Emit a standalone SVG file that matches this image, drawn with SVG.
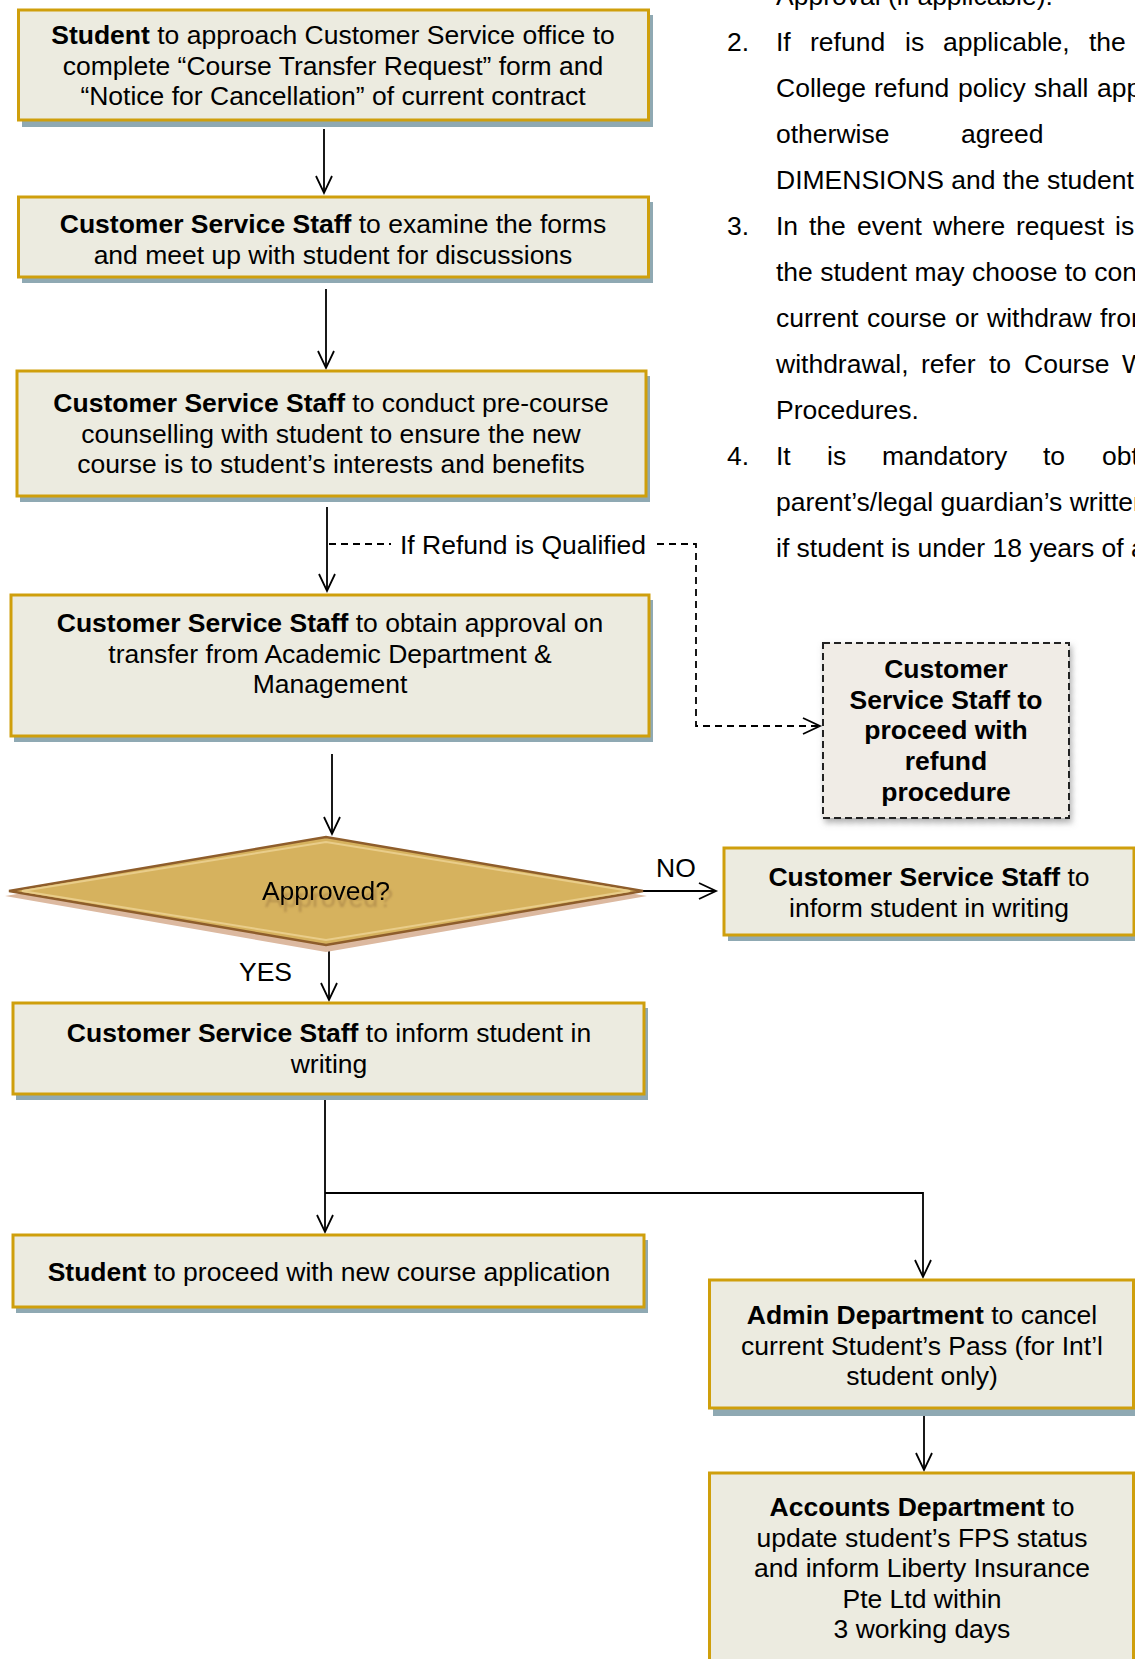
<svg xmlns="http://www.w3.org/2000/svg" width="1135" height="1659" viewBox="0 0 1135 1659">
<style>
.sh{fill:#8fa9b3}
.box{fill:#ecebe0;stroke:#cf9f0c;stroke-width:3}
.t{font-family:"Liberation Sans",Arial,sans-serif;font-size:26.5px;fill:#000;text-anchor:middle}
.l{font-family:"Liberation Sans",Arial,sans-serif;font-size:26.5px;fill:#000}
.b{font-weight:bold}
.c{fill:none;stroke:#000;stroke-width:1.8}
.d{fill:none;stroke:#000;stroke-width:1.8;stroke-dasharray:7 5}
</style>
<defs>
<marker id="ah" markerUnits="userSpaceOnUse" markerWidth="24" markerHeight="24" viewBox="-20 -12 24 24" refX="0" refY="0" orient="auto">
<path d="M-17,-8 L0,0 L-17,8" fill="none" stroke="#000" stroke-width="1.8"/>
</marker>
<filter id="ds" x="-10%" y="-10%" width="130%" height="130%">
<feDropShadow dx="2" dy="4" stdDeviation="3" flood-color="#777" flood-opacity="0.6"/>
</filter>
<filter id="ts" x="-10%" y="-30%" width="130%" height="180%">
<feDropShadow dx="3" dy="7" stdDeviation="1.2" flood-color="#9a7440" flood-opacity="0.55"/>
</filter>
</defs>

<g id="notes">
<text class="l" x="776" y="5">Approval (if applicable).</text>
<text class="l" x="727" y="51">2.</text>
<text class="l" y="51"><tspan x="776">If</tspan><tspan x="810">refund</tspan><tspan x="905">is</tspan><tspan x="943">applicable,</tspan><tspan x="1089">the</tspan></text>
<text class="l" y="97"><tspan x="776">College</tspan><tspan x="874">refund</tspan><tspan x="958">policy</tspan><tspan x="1034">shall</tspan><tspan x="1097">apply</tspan></text>
<text class="l" y="143"><tspan x="776">otherwise</tspan><tspan x="961">agreed</tspan></text>
<text class="l" x="776" y="189">DIMENSIONS and the student</text>
<text class="l" x="727" y="235">3.</text>
<text class="l" y="235"><tspan x="776">In</tspan><tspan x="809">the</tspan><tspan x="857">event</tspan><tspan x="933">where</tspan><tspan x="1016">request</tspan><tspan x="1115">is</tspan></text>
<text class="l" x="776" y="281">the student may choose to cont</text>
<text class="l" y="327"><tspan x="776">current</tspan><tspan x="867">course</tspan><tspan x="955">or</tspan><tspan x="987">withdraw</tspan><tspan x="1100">from</tspan></text>
<text class="l" y="373"><tspan x="776">withdrawal,</tspan><tspan x="921">refer</tspan><tspan x="989">to</tspan><tspan x="1024">Course</tspan><tspan x="1122">W</tspan></text>
<text class="l" x="776" y="419">Procedures.</text>
<text class="l" x="727" y="465">4.</text>
<text class="l" y="465"><tspan x="776">It</tspan><tspan x="827">is</tspan><tspan x="882">mandatory</tspan><tspan x="1043">to</tspan><tspan x="1102">obtain</tspan></text>
<text class="l" x="776" y="511">parent’s/legal guardian’s written</text>
<text class="l" x="776" y="557">if student is under 18 years of age</text>
</g>

<g id="connectors">
<line class="c" x1="324" y1="129" x2="324" y2="193" marker-end="url(#ah)"/>
<line class="c" x1="326" y1="289" x2="326" y2="368" marker-end="url(#ah)"/>
<line class="c" x1="327" y1="507" x2="327" y2="591" marker-end="url(#ah)"/>
<line class="d" x1="329" y1="544" x2="391" y2="544"/>
<polyline class="d" points="657,544 696,544 696,726 820,726" marker-end="url(#ah)"/>
<line class="c" x1="332" y1="754" x2="332" y2="834" marker-end="url(#ah)"/>
<line class="c" x1="643" y1="891" x2="716" y2="891" marker-end="url(#ah)"/>
<line class="c" x1="329" y1="947" x2="329" y2="1000" marker-end="url(#ah)"/>
<line class="c" x1="325" y1="1095" x2="325" y2="1232" marker-end="url(#ah)"/>
<polyline class="c" points="325,1193 923,1193 923,1277" marker-end="url(#ah)"/>
<line class="c" x1="924" y1="1416" x2="924" y2="1470" marker-end="url(#ah)"/>
<text class="l" x="400" y="554">If Refund is Qualified</text>
<text class="l" x="656" y="877">NO</text>
<text class="l" x="239" y="981">YES</text>
</g>

<g id="n1">
<rect class="sh" x="22" y="15" width="631" height="112"/>
<rect class="box" x="18.5" y="10" width="630" height="110"/>
<text class="t" y="44"><tspan x="333"><tspan class="b">Student</tspan> to approach Customer Service office to</tspan><tspan x="333" dy="30.5">complete “Course Transfer Request” form and</tspan><tspan x="333" dy="30.5">“Notice for Cancellation” of current contract</tspan></text>
</g>

<g id="n2">
<rect class="sh" x="22" y="202" width="631" height="81"/>
<rect class="box" x="18.5" y="197" width="630" height="80"/>
<text class="t" y="233"><tspan x="333"><tspan class="b">Customer Service Staff</tspan> to examine the forms</tspan><tspan x="333" dy="30.5">and meet up with student for discussions</tspan></text>
</g>

<g id="n3">
<rect class="sh" x="20" y="376" width="630" height="126"/>
<rect class="box" x="17" y="371" width="629" height="125"/>
<text class="t" y="412"><tspan x="331"><tspan class="b">Customer Service Staff</tspan> to conduct pre-course</tspan><tspan x="331" dy="30.5">counselling with student to ensure the new</tspan><tspan x="331" dy="30.5">course is to student’s interests and benefits</tspan></text>
</g>

<g id="n4">
<rect class="sh" x="14" y="600" width="639" height="142"/>
<rect class="box" x="11" y="595" width="638" height="141"/>
<text class="t" y="632"><tspan x="330"><tspan class="b">Customer Service Staff</tspan> to obtain approval on</tspan><tspan x="330" dy="30.5">transfer from Academic Department &amp;</tspan><tspan x="330" dy="30.5">Management</tspan></text>
</g>

<g id="n5">
<polygon points="5,896 326,843 647,896 326,952" fill="#dcb9a0"/>
<polygon points="9,891 326,837 643,891 326,945" fill="#d6b25e" stroke="#8e5d2b" stroke-width="2.5"/>
<polygon points="22,891 326,842 630,891 326,940" fill="none" stroke="#e9cd8a" stroke-width="2"/>
<text class="t" x="326" y="900" filter="url(#ts)">Approved?</text>
</g>

<g id="n6">
<g filter="url(#ds)"><rect x="823" y="643" width="246" height="175" fill="#f0ece6" stroke="#222" stroke-width="2" stroke-dasharray="7 4"/></g>
<text class="t b" y="678"><tspan x="946">Customer</tspan><tspan x="946" dy="30.7">Service Staff to</tspan><tspan x="946" dy="30.7">proceed with</tspan><tspan x="946" dy="30.7">refund</tspan><tspan x="946" dy="30.7">procedure</tspan></text>
</g>

<g id="n7">
<rect class="sh" x="728" y="853" width="411" height="88"/>
<rect class="box" x="724" y="848" width="410" height="87"/>
<text class="t" y="886"><tspan x="929"><tspan class="b">Customer Service Staff</tspan> to</tspan><tspan x="929" dy="30.5">inform student in writing</tspan></text>
</g>

<g id="n8">
<rect class="sh" x="16" y="1008" width="632" height="92"/>
<rect class="box" x="13" y="1003" width="631" height="91"/>
<text class="t" y="1042"><tspan x="329"><tspan class="b">Customer Service Staff</tspan> to inform student in</tspan><tspan x="329" dy="30.5">writing</tspan></text>
</g>

<g id="n9">
<rect class="sh" x="16" y="1240" width="632" height="73"/>
<rect class="box" x="13" y="1235" width="631" height="72"/>
<text class="t" x="329" y="1281"><tspan class="b">Student</tspan> to proceed with new course application</text>
</g>

<g id="n10">
<rect class="sh" x="713" y="1285" width="430" height="131"/>
<rect class="box" x="709.5" y="1280" width="424" height="128"/>
<text class="t" y="1324"><tspan x="922"><tspan class="b">Admin Department</tspan> to cancel</tspan><tspan x="922" dy="30.5">current Student’s Pass (for Int’l</tspan><tspan x="922" dy="30.5">student only)</tspan></text>
</g>

<g id="n11">
<rect class="box" x="709.5" y="1473" width="424" height="260"/>
<text class="t" y="1516"><tspan x="922"><tspan class="b">Accounts Department</tspan> to</tspan><tspan x="922" dy="30.5">update student’s FPS status</tspan><tspan x="922" dy="30.5">and inform Liberty Insurance</tspan><tspan x="922" dy="30.5">Pte Ltd within</tspan><tspan x="922" dy="30.5">3 working days</tspan></text>
</g>
</svg>
